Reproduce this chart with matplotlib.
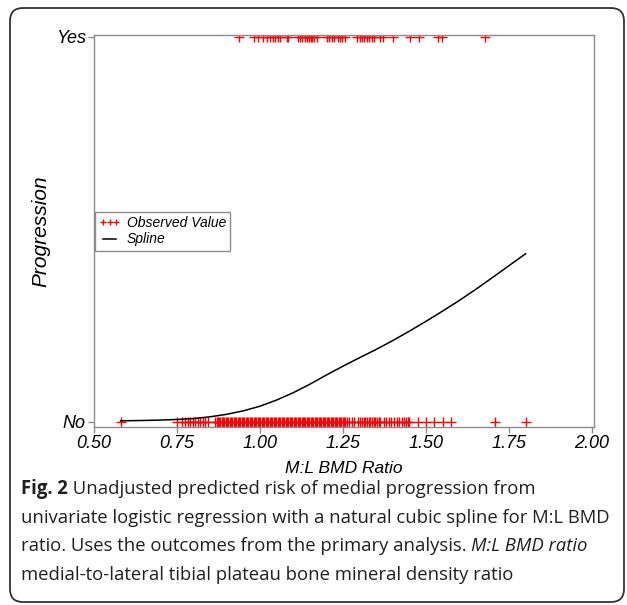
import matplotlib
matplotlib.use("Agg")
import matplotlib.pyplot as plt
from matplotlib.patches import FancyBboxPatch
from matplotlib.transforms import IdentityTransform

# ---------------- data ----------------
yes_values = [0.937, 0.983, 0.995, 1.010, 1.022, 1.030, 1.038, 1.045, 1.053, 1.060,
              1.080, 1.085, 1.114, 1.120, 1.127, 1.136, 1.142, 1.148, 1.154, 1.158,
              1.164, 1.171, 1.201, 1.208, 1.216, 1.224, 1.234, 1.241, 1.248, 1.256,
              1.291, 1.301, 1.306, 1.313, 1.321, 1.329, 1.336, 1.343, 1.361, 1.370,
              1.401, 1.452, 1.480, 1.537, 1.547, 1.678]

no_values = [0.58, 0.75, 0.765, 0.775, 0.782, 0.79, 0.797, 0.805, 0.812, 0.82, 0.828,
             0.835, 0.842,
             0.865, 0.869, 0.873, 0.877, 0.881, 0.885, 0.889, 0.893, 0.897, 0.901,
             0.905, 0.909, 0.913, 0.917, 0.921, 0.925, 0.929, 0.933, 0.937, 0.941,
             0.945, 0.949, 0.953, 0.957, 0.961, 0.965, 0.969, 0.973, 0.977, 0.981,
             0.985, 0.989, 0.993, 0.997, 1.001, 1.005, 1.009, 1.013, 1.017, 1.021,
             1.025, 1.029, 1.033, 1.037, 1.041, 1.045, 1.049, 1.053, 1.057, 1.061,
             1.065, 1.069, 1.073, 1.077, 1.081, 1.085, 1.089, 1.093, 1.097, 1.101,
             1.105, 1.109, 1.113, 1.117, 1.121, 1.125, 1.129, 1.133, 1.137, 1.141,
             1.145, 1.149, 1.153, 1.157, 1.161, 1.165, 1.169, 1.173, 1.177, 1.181,
             1.185, 1.189, 1.193, 1.197, 1.201, 1.205, 1.209, 1.213, 1.217, 1.221,
             1.225, 1.229, 1.233, 1.237, 1.241, 1.245, 1.249, 1.253, 1.257, 1.261,
             1.268, 1.276, 1.284, 1.296, 1.302, 1.307, 1.312, 1.317, 1.322, 1.327,
             1.332, 1.337, 1.342, 1.347, 1.352, 1.357, 1.362, 1.372, 1.38, 1.388,
             1.396, 1.404, 1.412, 1.42, 1.428, 1.434, 1.44, 1.446, 1.45,
             1.475, 1.499, 1.524, 1.55, 1.574, 1.709, 1.80]

spline_x = [0.58, 0.65, 0.70, 0.75, 0.80, 0.85, 0.90, 0.95, 1.00, 1.05, 1.10, 1.15,
            1.20, 1.25, 1.30, 1.35, 1.40, 1.45, 1.50, 1.55, 1.60, 1.65, 1.70, 1.75, 1.80]
spline_p = [0.003, 0.004, 0.005, 0.0065, 0.009, 0.0135, 0.020, 0.029, 0.041, 0.057,
            0.076, 0.098, 0.122, 0.145, 0.167, 0.1885, 0.2115, 0.236, 0.2615, 0.288,
            0.3155, 0.3445, 0.375, 0.406, 0.437]

x_ticks = [0.50, 0.75, 1.00, 1.25, 1.50, 1.75, 2.00]
x_tick_labels = ["0.50", "0.75", "1.00", "1.25", "1.50", "1.75", "2.00"]
y_ticks = [0, 1]
y_tick_labels = ["No", "Yes"]

# ---------------- figure ----------------
W, H = 627, 605
fig = plt.figure(figsize=(W / 100, H / 100), dpi=100)
fig.patch.set_facecolor("white")

chart_font = "Liberation Sans"
cap_font = "Open Sans"

ax = fig.add_axes([94 / W, 1 - 427 / H, 500 / W, 392 / H])
ax.set_xlim(0.5, 2.006)
ax.set_ylim(-0.013, 1.005)

ax.plot(no_values, [0] * len(no_values), linestyle="none", marker="+",
        color="#ff0000", markersize=6.5, markeredgewidth=1.0, label="Observed Value")
ax.plot(yes_values, [1] * len(yes_values), linestyle="none", marker="+",
        color="#ff0000", markersize=6.5, markeredgewidth=1.0)
ax.plot(spline_x, spline_p, color="black", linewidth=1.1, label="Spline")

for s in ax.spines.values():
    s.set_color("#8c8c8c")
    s.set_linewidth(1.0)

ax.set_xticks(x_ticks)
ax.set_xticklabels(x_tick_labels, fontfamily=chart_font, fontstyle="italic", fontsize=13)
ax.set_yticks(y_ticks)
ax.set_yticklabels(y_tick_labels, fontfamily=chart_font, fontstyle="italic", fontsize=13)
ax.tick_params(axis="both", direction="out", length=4, width=1.0, color="#8c8c8c",
               pad=2)

ax.set_xlabel("M:L BMD Ratio", fontfamily=chart_font, fontstyle="italic", fontsize=12.5,
              labelpad=6)
ax.set_ylabel("Progression", fontfamily=chart_font, fontstyle="italic", fontsize=15,
              labelpad=4)

leg = ax.legend(loc="upper left", bbox_to_anchor=(0.002, 0.548), numpoints=3,
                markerscale=0.6, handlelength=1.5, handletextpad=0.5,
                labelspacing=0.15, borderpad=0.3, borderaxespad=0.0,
                fancybox=False, edgecolor="#8c8c8c", framealpha=1,
                prop={"family": chart_font, "style": "italic", "size": 10})
leg.get_frame().set_linewidth(1.0)

# outer rounded frame (pixel coordinates)
box = FancyBboxPatch((10, 3), 614, 594, boxstyle="round,pad=0,rounding_size=13",
                     transform=IdentityTransform(), facecolor="none",
                     edgecolor="#333333", linewidth=1.3)
fig.patches.append(box)

# caption
renderer = fig.canvas.get_renderer()
cap_size = 13.35
line_h = 28.6
x0 = 21
base0 = 494


def seg_text(x, y, s, **kw):
    t = fig.text(x / W, 1 - y / H, s, fontfamily=cap_font, fontsize=cap_size,
                 va="baseline", ha="left", color="#231f20", **kw)
    w = t.get_window_extent(renderer).width
    return x + w


lines = [
    [("Fig. 2", {"fontweight": "bold"}),
     (" Unadjusted predicted risk of medial progression from", {})],
    [("univariate logistic regression with a natural cubic spline for M:L BMD", {})],
    [("ratio. Uses the outcomes from the primary analysis. ", {}),
     ("M:L BMD ratio", {"fontstyle": "italic"})],
    [("medial-to-lateral tibial plateau bone mineral density ratio", {})],
]
for i, segs in enumerate(lines):
    x = x0
    y = base0 + i * line_h
    for s, kw in segs:
        x = seg_text(x, y, s, **kw)

fig.savefig("out.png", dpi=100, facecolor="white")
